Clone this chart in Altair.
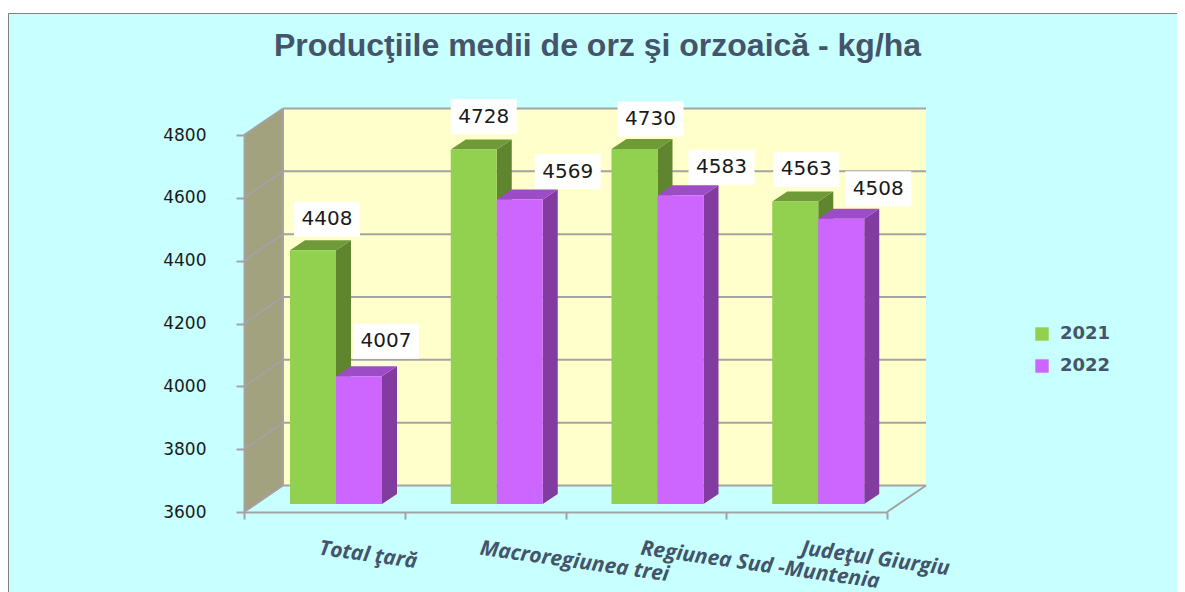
import altair as alt
import pandas as pd

categories = ["Total ţară", "Macroregiunea trei", "Regiunea Sud -Muntenia", "Judeţul Giurgiu"]
series = ["2021", "2022"]
values_2021 = [4408, 4728, 4730, 4563]
values_2022 = [4007, 4569, 4583, 4508]
y_ticks = [3600, 3800, 4000, 4200, 4400, 4600, 4800]
x_ticks = [0, 1, 2, 3, 4]
title_text = "Producţiile medii de orz şi orzoaică  - kg/ha"

# layout constants (pixels)
PLOT_W, PLOT_H = 643, 377
UX, UY = 4 / PLOT_W, 1200 / PLOT_H
WALL_DX, WALL_DY = 39, 26.5
BAR_LEFT, BAR_W = 46, 46
BAR_PLANE_DY = 8
SIDE_DX, SIDE_DY = 15, 10
label_nudge_2021 = [(37, 31), (33, 33), (39, 30), (34, 32)]
label_nudge_2022 = [(50, 35), (71, 28), (64, 28), (60, 30)]

GREEN, GREEN_SIDE, GREEN_TOP = "#92D050", "#5F852E", "#6F9A38"
PURPLE, PURPLE_SIDE, PURPLE_TOP = "#CC66FF", "#823CA0", "#9C4CC4"
INK = "#44546A"
GRID = "#A3A3A3"
BG = "#C8FFFF"

xs = alt.Scale(domain=[0, 4], nice=False, zero=False)
ys = alt.Scale(domain=[3600, 4800], nice=False, zero=False)
x_axis = alt.Axis(values=x_ticks, labels=False, grid=False, tickSize=7, tickWidth=2,
                  tickColor=GRID, domainColor=GRID, domainWidth=2, zindex=1, title=None)
y_axis = alt.Axis(values=y_ticks, format="d", grid=False, tickSize=8, tickWidth=2, tickColor=GRID,
                  domainColor=GRID, domainWidth=2, labelFont="DejaVu Sans", labelFontSize=17,
                  labelColor="#1A1A1A", labelPadding=30, zindex=1, title=None)
X = alt.X("x:Q", scale=xs, axis=x_axis)
X2 = alt.X2("x2:Q")
Y = alt.Y("y:Q", scale=ys, axis=y_axis)
Y2 = alt.Y2("y2:Q")

wx, wy = WALL_DX * UX, WALL_DY * UY
base_y = 3600 + BAR_PLANE_DY * UY


def bar_frames(values, index, name):
    front, side, top = [], [], []
    sx, sy = SIDE_DX * UX, SIDE_DY * UY
    for c, v in enumerate(values):
        xl = c + (BAR_LEFT + index * BAR_W) * UX
        xr = xl + BAR_W * UX
        t = v + BAR_PLANE_DY * UY
        front.append({"x": xl, "x2": xr, "y": t, "y2": base_y, "series": name, "value": v})
        side += [
            {"x": xr, "y": t, "y2": base_y, "g": c},
            {"x": xr + sx, "y": t + sy, "y2": base_y + sy, "g": c},
        ]
        top += [
            {"x": xl, "y": t, "y2": t, "g": c},
            {"x": xl + sx, "y": t + sy, "y2": t, "g": c},
            {"x": xr, "y": t + sy, "y2": t, "g": c},
            {"x": xr + sx, "y": t + sy, "y2": t + sy, "g": c},
        ]
    return pd.DataFrame(front), pd.DataFrame(side), pd.DataFrame(top)


def bar_layers(values, index, name, side_col, top_col):
    f, s, t = bar_frames(values, index, name)
    return [
        alt.Chart(s).mark_area(color=side_col, opacity=1).encode(X, Y, Y2, detail="g:N"),
        alt.Chart(t).mark_area(color=top_col, opacity=1).encode(X, Y, Y2, detail="g:N"),
        alt.Chart(f).mark_rect().encode(
            X, X2, Y, Y2,
            color=alt.Color(
                "series:N",
                scale=alt.Scale(domain=series, range=[GREEN, PURPLE]),
                legend=alt.Legend(
                    title=None, orient="none", legendX=789, legendY=190,
                    symbolType="square", symbolSize=180, symbolStrokeWidth=0,
                    symbolOpacity=1, labelFont="DejaVu Sans", labelFontWeight="bold",
                    labelFontSize=18, labelColor=INK, rowPadding=14, labelOffset=9,
                ),
            ),
        ),
    ]


panel = alt.Chart(pd.DataFrame({"a": [0]})).mark_rect(
    fill=BG, stroke="#808080", strokeWidth=1
).encode(
    x=alt.value(-235.5), x2=alt.value(960), y=alt.value(-121.5), y2=alt.value(480)
)

wall_back = alt.Chart(
    pd.DataFrame([{"x": wx, "x2": 4 + wx, "y": 4800 + wy, "y2": 3600 + wy}])
).mark_rect(color="#FFFFCC").encode(X, X2, Y, Y2)

wall_left = alt.Chart(pd.DataFrame([
    {"x": 0, "y": 4800, "y2": 3600},
    {"x": wx, "y": 4800 + wy, "y2": 3600 + wy},
])).mark_area(color="#A3A27F", opacity=1).encode(X, Y, Y2)

grid_back = alt.Chart(pd.DataFrame(
    [{"x": wx, "x2": 4 + wx, "y": t + wy} for t in y_ticks]
)).mark_rule(color=GRID, strokeWidth=2).encode(X, X2, Y)

edge_rows = []
for g, t in enumerate(y_ticks):
    edge_rows += [{"x": 0, "y": t, "g": g}, {"x": wx, "y": t + wy, "g": g}]
edge_rows += [{"x": 4, "y": 3600, "g": 99}, {"x": 4 + wx, "y": 3600 + wy, "g": 99}]
edge_rows += [{"x": wx, "y": 3600 + wy, "g": 100}, {"x": wx, "y": 4800 + wy, "g": 100}]
edges = alt.Chart(pd.DataFrame(edge_rows)).mark_line(color=GRID, strokeWidth=2).encode(X, Y, detail="g:N")

label_rows = []
for vals, nudges in ((values_2021, label_nudge_2021), (values_2022, label_nudge_2022)):
    idx = 0 if vals is values_2021 else 1
    for c, (v, (nx, ny)) in enumerate(zip(vals, nudges)):
        label_rows.append({
            "x": c + (BAR_LEFT + idx * BAR_W + nx) * UX,
            "y": v + (BAR_PLANE_DY + ny) * UY,
            "label": str(v),
        })
labels = pd.DataFrame(label_rows)
label_boxes = alt.Chart(labels).mark_rect(color="white", width=66, height=35).encode(X, Y)
label_text = alt.Chart(labels).mark_text(
    font="DejaVu Sans", fontSize=20, color="#1A1A1A", baseline="middle", align="center"
).encode(X, Y, text="label:N")

cat_df = pd.DataFrame({"x": [i + 0.5 for i in range(4)], "y": [3600] * 4, "label": categories})
cat_text = alt.Chart(cat_df).mark_text(
    font="Open Sans", fontSize=21, fontWeight="bold", fontStyle="italic", color=INK,
    align="left", baseline="middle", angle=8, dy=37,
).encode(X, Y, text="label:N")

layers = [panel, wall_left, wall_back, grid_back, edges]
layers += bar_layers(values_2021, 0, series[0], GREEN_SIDE, GREEN_TOP)
layers += bar_layers(values_2022, 1, series[1], PURPLE_SIDE, PURPLE_TOP)
layers += [label_boxes, label_text, cat_text]

chart = alt.layer(*layers).properties(
    width=PLOT_W, height=PLOT_H,
    padding={"left": 236, "top": 127, "right": 290, "bottom": 80},
    autosize=alt.AutoSizeParams(type="none"),
    background="white",
    title=alt.TitleParams(
        text=title_text, font="Liberation Sans", fontSize=32, fontWeight="bold",
        color=INK, anchor="middle", dx=32, offset=0, dy=50,
    ),
).configure_view(stroke=None)

chart.save("out.html", embed_options={"renderer": "svg", "actions": False})
